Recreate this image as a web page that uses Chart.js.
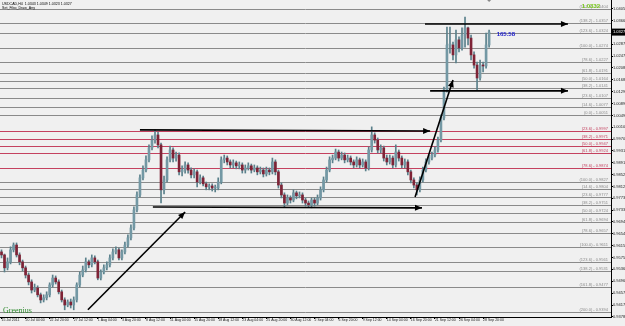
<!DOCTYPE html>
<html>
<head>
<meta charset="utf-8">
<script src="https://cdn.jsdelivr.net/npm/chart.js@4.4.1/dist/chart.umd.min.js"></script>
<style>
  html, body { margin: 0; padding: 0; background: #f0f0f0; }
  #wrap { width: 625px; height: 326px; }
</style>
</head>
<body>
<div id="wrap"><canvas id="fx"></canvas></div>
<script>
// ----- data (USDCAD H4, one slot = two H4 bars) -----
const timeLabels = [
  '15 Jul 2011', '20 Jul 04:00', '22 Jul 20:00', '27 Jul 12:00', '1 Aug 04:00', '3 Aug 20:00',
  '8 Aug 12:00', '11 Aug 04:00', '15 Aug 20:00', '18 Aug 12:00', '23 Aug 04:00', '25 Aug 20:00',
  '30 Aug 12:00', '2 Sep 04:00', '6 Sep 20:00', '9 Sep 12:00', '14 Sep 04:00', '16 Sep 20:00',
  '21 Sep 12:00', '26 Sep 04:00', '28 Sep 20:00'
];
const slotCount = 203;       // chart shift leaves empty slots on the right
const labelEvery = 8;

const firstOpen = 0.9594;
const closes = [
  0.9584, 0.9541, 0.9561, 0.9601, 0.9617, 0.9584, 0.9561, 0.9541, 0.9517, 0.9494,
  0.9467, 0.9474, 0.9451, 0.9434, 0.9441, 0.9451, 0.9484, 0.9507, 0.9494, 0.9461,
  0.9434, 0.9417, 0.9427, 0.9417, 0.9434, 0.9484, 0.9517, 0.9534, 0.9561, 0.9551,
  0.9574, 0.9561, 0.9507, 0.9527, 0.9541, 0.9551, 0.9574, 0.9594, 0.9601, 0.9574,
  0.9594, 0.9617, 0.9641, 0.9674, 0.9734, 0.9784, 0.9841, 0.9867, 0.9901, 0.9941,
  0.9967, 0.9984, 0.9951, 0.9801, 0.9834, 0.9901, 0.9934, 0.9907, 0.9917, 0.9861,
  0.9867, 0.9884, 0.9867, 0.9851, 0.9861, 0.9827, 0.9841, 0.9821, 0.9811, 0.9814,
  0.9807, 0.9807, 0.9827, 0.9901, 0.9907, 0.9894, 0.9884, 0.9891, 0.9881, 0.9884,
  0.9867, 0.9874, 0.9881, 0.9867, 0.9874, 0.9861, 0.9867, 0.9854, 0.9867, 0.9861,
  0.9894, 0.9861, 0.9817, 0.9784, 0.9757, 0.9774, 0.9767, 0.9791, 0.9781, 0.9784,
  0.9767, 0.9757, 0.9751, 0.9767, 0.9757, 0.9774, 0.9801, 0.9834, 0.9867, 0.9901,
  0.9907, 0.9927, 0.9907, 0.9917, 0.9901, 0.9907, 0.9894, 0.9884, 0.9901, 0.9884,
  0.9894, 0.9874, 0.9934, 0.9984, 0.9967, 0.9934, 0.9941, 0.9907, 0.9894, 0.9907,
  0.9884, 0.9927, 0.9907, 0.9884, 0.9894, 0.9861, 0.9834, 0.9817, 0.9801, 0.9834,
  0.9867, 0.9894, 0.9907, 0.9917, 0.9934, 0.9967, 1.0041, 1.0134, 1.0284, 1.0284,
  1.0251, 1.0301, 1.0274, 1.0317, 1.0341, 1.0307, 1.0251, 1.0217, 1.0174, 1.0217,
  1.0214, 1.0284, 1.0327
];
const highs = [
  0.9601, 0.9587, 0.9574, 0.9611, 0.9624, 0.9624, 0.9591, 0.9567, 0.9547, 0.9524,
  0.9501, 0.9487, 0.9481, 0.9457, 0.9451, 0.9461, 0.9491, 0.9517, 0.9514, 0.9501,
  0.9467, 0.9441, 0.9434, 0.9437, 0.9444, 0.9491, 0.9527, 0.9547, 0.9574, 0.9567,
  0.9584, 0.9581, 0.9567, 0.9534, 0.9551, 0.9561, 0.9584, 0.9604, 0.9611, 0.9607,
  0.9601, 0.9627, 0.9651, 0.9684, 0.9744, 0.9794, 0.9851, 0.9881, 0.9914, 0.9951,
  0.9981, 1.0001, 0.9994, 0.9957, 0.9847, 0.9911, 0.9947, 0.9941, 0.9927, 0.9924,
  0.9881, 0.9894, 0.9891, 0.9874, 0.9871, 0.9867, 0.9851, 0.9847, 0.9827, 0.9821,
  0.9821, 0.9817, 0.9841, 0.9911, 0.9917, 0.9914, 0.9901, 0.9901, 0.9897, 0.9894,
  0.9891, 0.9884, 0.9891, 0.9887, 0.9884, 0.9881, 0.9877, 0.9874, 0.9877, 0.9874,
  0.9907, 0.9901, 0.9867, 0.9824, 0.9791, 0.9784, 0.9781, 0.9801, 0.9797, 0.9794,
  0.9791, 0.9774, 0.9764, 0.9774, 0.9774, 0.9784, 0.9811, 0.9844, 0.9877, 0.9911,
  0.9917, 0.9937, 0.9934, 0.9927, 0.9924, 0.9917, 0.9914, 0.9901, 0.9911, 0.9907,
  0.9904, 0.9901, 0.9944, 1.0011, 0.9991, 0.9974, 0.9951, 0.9947, 0.9917, 0.9917,
  0.9914, 0.9951, 0.9934, 0.9914, 0.9904, 0.9901, 0.9867, 0.9841, 0.9824, 0.9844,
  0.9877, 0.9904, 0.9917, 0.9927, 0.9944, 0.9977, 1.0051, 1.0144, 1.0344, 1.0344,
  1.0294, 1.0334, 1.0311, 1.0341, 1.0377, 1.0344, 1.0317, 1.0261, 1.0227, 1.0234,
  1.0227, 1.0324, 1.0334
];
const lows = [
  0.9574, 0.9527, 0.9534, 0.9554, 0.9594, 0.9577, 0.9551, 0.9531, 0.9507, 0.9484,
  0.9457, 0.9461, 0.9444, 0.9424, 0.9427, 0.9434, 0.9444, 0.9477, 0.9487, 0.9454,
  0.9427, 0.9401, 0.9411, 0.9407, 0.9401, 0.9427, 0.9477, 0.9511, 0.9527, 0.9541,
  0.9544, 0.9554, 0.9501, 0.9501, 0.9521, 0.9534, 0.9544, 0.9567, 0.9587, 0.9567,
  0.9567, 0.9587, 0.9611, 0.9634, 0.9667, 0.9727, 0.9777, 0.9834, 0.9861, 0.9894,
  0.9934, 0.9957, 0.9941, 0.9757, 0.9787, 0.9827, 0.9894, 0.9894, 0.9897, 0.9851,
  0.9847, 0.9857, 0.9857, 0.9841, 0.9841, 0.9811, 0.9821, 0.9814, 0.9801, 0.9801,
  0.9797, 0.9794, 0.9801, 0.9821, 0.9891, 0.9884, 0.9874, 0.9874, 0.9871, 0.9871,
  0.9857, 0.9857, 0.9867, 0.9857, 0.9861, 0.9851, 0.9854, 0.9844, 0.9847, 0.9851,
  0.9854, 0.9851, 0.9807, 0.9774, 0.9744, 0.9751, 0.9757, 0.9761, 0.9771, 0.9774,
  0.9757, 0.9747, 0.9744, 0.9741, 0.9747, 0.9751, 0.9767, 0.9794, 0.9827, 0.9861,
  0.9891, 0.9901, 0.9897, 0.9901, 0.9891, 0.9894, 0.9884, 0.9874, 0.9877, 0.9874,
  0.9877, 0.9864, 0.9867, 0.9927, 0.9957, 0.9924, 0.9924, 0.9897, 0.9884, 0.9887,
  0.9874, 0.9877, 0.9897, 0.9874, 0.9874, 0.9851, 0.9824, 0.9807, 0.9784, 0.9794,
  0.9827, 0.9861, 0.9887, 0.9901, 0.9911, 0.9927, 0.9961, 1.0034, 1.0127, 1.0257,
  1.0234, 1.0224, 1.0261, 1.0267, 1.0277, 1.0284, 1.0234, 1.0207, 1.0134, 1.0167,
  1.0194, 1.0207, 1.0277
];

const priceMin = 0.9377;
const priceMax = 1.0434;
const yTicks = [
  1.0405, 1.0366, 1.0287, 1.0247, 1.0208, 1.0168, 1.0129, 1.0089, 1.0049, 1.0010,
  0.9970, 0.9931, 0.9891, 0.9852, 0.9812, 0.9773, 0.9733, 0.9694, 0.9654, 0.9615,
  0.9575, 0.9536, 0.9496, 0.9457, 0.9417, 0.9378
];

// fibo levels: price, level name, group (A upper, B red retrace, C lower expansion)
const fibPrices = [
  1.0404, 1.0357, 1.0324, 1.0274, 1.0227, 1.0191, 1.0164, 1.0141, 1.0107, 1.0077, 1.0051,
  0.9997, 0.9971, 0.9947, 0.9924, 0.9874,
  0.9827, 0.9804, 0.9777, 0.9751, 0.9724, 0.9694, 0.9657, 0.9611, 0.9561, 0.9531, 0.9477, 0.9394
];
const fibNames = [
  '161.8', '138.2', '123.6', '100.0', '78.6', '61.8', '50.0', '38.2', '23.6', '14.6', '0.0',
  '23.6', '38.2', '50.0', '61.8', '78.6',
  '100.0', '14.6', '23.6', '38.2', '50.0', '61.8', '78.6', '100.0', '123.6', '138.2', '161.8', '200.0'
];
const fibGroups = [
  'A', 'A', 'A', 'A', 'A', 'A', 'A', 'A', 'A', 'A', 'A',
  'B', 'B', 'B', 'B', 'B',
  'C', 'C', 'C', 'C', 'C', 'C', 'C', 'C', 'C', 'C', 'C', 'C'
];

// trend arrows: [fromSlot, fromPrice, toSlot, toPrice]
const arrows = [
  [28.7, 0.9401, 61.0, 0.9727],
  [46.0, 1.0001, 142.4, 0.9997],
  [50.3, 0.9744, 139.7, 0.9741],
  [137.4, 0.9777, 150.0, 1.0167],
  [140.7, 1.0354, 188.2, 1.0354],
  [142.4, 1.0131, 188.2, 1.0131]
];

const headerText = 'USDCAD,H4  1.0343 1.0349 1.0323 1.0327';
const indicatorText = 'Set_Fibo_Draw_Any';
const pipsText = '165.58';
const pipsAt = [164.5, 1.0321];
const bidText = '1.0332';
const signText = 'Greenius';

// ----- derived series -----
const opens = closes.map((c, i) => (i === 0 ? firstOpen : closes[i - 1]));
const slotLabels = Array.from({ length: slotCount }, (_, i) =>
  (i % labelEvery === 0 && i / labelEvery < timeLabels.length) ? timeLabels[i / labelEvery] : '');

const BULL = '#7398a4', BEAR = '#7e2336', WICK = '#5a808b';
const FONT = 'Liberation Sans, Arial, sans-serif';

const mtPlugin = {
  id: 'mtOverlay',
  beforeDraw(ci) {
    const ctx = ci.ctx;
    ctx.save();
    ctx.fillStyle = '#f0f0f0';
    ctx.fillRect(0, 0, ci.width, ci.height);
    ctx.restore();
  },
  beforeDatasetsDraw(ci) {
    const { ctx, chartArea: ca, scales: { y } } = ci;
    ctx.save();
    ctx.font = '4px ' + FONT;
    ctx.textAlign = 'right';
    ctx.textBaseline = 'bottom';
    fibPrices.forEach((p, i) => {
      const yy = Math.round(y.getPixelForValue(p)) + 0.5;
      const red = fibGroups[i] === 'B';
      ctx.strokeStyle = red ? '#c4415f' : '#8a8a8a';
      ctx.lineWidth = 1;
      ctx.beginPath();
      ctx.moveTo(ca.left, yy);
      ctx.lineTo(ca.right, yy);
      ctx.stroke();
      ctx.fillStyle = red ? '#c4415f' : '#8a8a8a';
      ctx.fillText('(' + fibNames[i] + ') - ' + p.toFixed(4), ca.right - 3, yy - 0.5);
    });
    ctx.restore();
  },
  afterDatasetsDraw(ci) {
    const { ctx, chartArea: ca, scales: { x, y } } = ci;
    ctx.save();
    ctx.strokeStyle = '#000';
    ctx.fillStyle = '#000';
    ctx.lineWidth = 1.6;
    arrows.forEach(a => {
      const x1 = x.getPixelForValue(a[0]), y1 = y.getPixelForValue(a[1]);
      const x2 = x.getPixelForValue(a[2]), y2 = y.getPixelForValue(a[3]);
      ctx.beginPath();
      ctx.moveTo(x1, y1);
      ctx.lineTo(x2, y2);
      ctx.stroke();
      const ang = Math.atan2(y2 - y1, x2 - x1);
      const len = 7, half = 3;
      ctx.beginPath();
      ctx.moveTo(x2, y2);
      ctx.lineTo(x2 - len * Math.cos(ang) + half * Math.sin(ang), y2 - len * Math.sin(ang) - half * Math.cos(ang));
      ctx.lineTo(x2 - len * Math.cos(ang) - half * Math.sin(ang), y2 - len * Math.sin(ang) + half * Math.cos(ang));
      ctx.closePath();
      ctx.fill();
    });

    // pips count next to last bar
    ctx.font = 'bold 6px ' + FONT;
    ctx.textAlign = 'left';
    ctx.textBaseline = 'middle';
    ctx.fillStyle = '#1c1ccc';
    ctx.fillText(pipsText, x.getPixelForValue(pipsAt[0]), y.getPixelForValue(pipsAt[1]));

    // signature bottom-left
    ctx.font = '8px Liberation Serif, Times New Roman, serif';
    ctx.textBaseline = 'bottom';
    ctx.fillStyle = '#2f8a2f';
    ctx.fillText(signText, ca.left + 3, ca.bottom - 2);

    // header
    ctx.font = '3.6px ' + FONT;
    ctx.textBaseline = 'top';
    ctx.fillStyle = '#000';
    ctx.fillText(headerText, ca.left + 2, ca.top + 2);
    ctx.fillText(indicatorText, ca.left + 2, ca.top + 6);

    // bid label top-right
    ctx.font = 'bold 6px ' + FONT;
    ctx.textAlign = 'right';
    ctx.fillStyle = '#78c81c';
    ctx.fillText(bidText, ca.right - 11, ca.top + 3);

    // shift marker
    const sx = x.getPixelForValue(closes.length - 1);
    ctx.fillStyle = '#888';
    ctx.beginPath();
    ctx.moveTo(sx - 2, ca.top);
    ctx.lineTo(sx + 2, ca.top);
    ctx.lineTo(sx, ca.top + 2);
    ctx.closePath();
    ctx.fill();
    ctx.restore();
  },
  afterDraw(ci) {
    const { ctx, chartArea: ca, scales: { y } } = ci;
    const last = closes[closes.length - 1];
    const yy = y.getPixelForValue(last);
    ctx.save();
    ctx.fillStyle = '#000';
    ctx.fillRect(ca.right, yy - 3.5, ci.width - ca.right, 7);
    ctx.fillStyle = '#fff';
    ctx.font = '4px ' + FONT;
    ctx.textAlign = 'left';
    ctx.textBaseline = 'middle';
    ctx.fillText(last.toFixed(4), ca.right + 2, yy);
    ctx.restore();
  }
};

new Chart(document.getElementById('fx'), {
  type: 'bar',
  data: {
    labels: slotLabels,
    datasets: [
      {
        label: 'body',
        data: closes.map((c, i) => [opens[i], c]),
        backgroundColor: closes.map((c, i) => (c >= opens[i] ? BULL : BEAR)),
        barThickness: 2,
        minBarLength: 1,
        grouped: false,
        borderWidth: 0
      },
      {
        label: 'wick',
        data: lows.map((l, i) => [l, highs[i]]),
        backgroundColor: WICK,
        barThickness: 1,
        grouped: false,
        borderWidth: 0
      }
    ]
  },
  options: {
    responsive: true,
    maintainAspectRatio: false,
    animation: false,
    layout: { padding: 0 },
    plugins: { legend: { display: false }, tooltip: { enabled: false } },
    scales: {
      x: {
        type: 'category',
        offset: true,
        afterBuildTicks: s => {
          s.ticks = s.ticks.filter(t => t.value % labelEvery === 0 && t.value / labelEvery < timeLabels.length);
        },
        afterFit: s => { s.height = 9; },
        grid: { drawOnChartArea: false, offset: false, tickLength: 2, color: '#000' },
        border: { color: '#000', width: 1 },
        ticks: {
          autoSkip: false, maxRotation: 0, minRotation: 0, align: 'start', padding: 1,
          color: '#222', font: { size: 3.5, family: FONT, lineHeight: 0 }
        }
      },
      y: {
        position: 'right',
        min: priceMin,
        max: priceMax,
        afterBuildTicks: s => { s.ticks = yTicks.map(v => ({ value: v })); },
        afterFit: s => { s.width = 14; },
        grid: { drawOnChartArea: false, tickLength: 2, color: '#000' },
        border: { color: '#000', width: 1 },
        ticks: {
          padding: 0, color: '#222',
          font: { size: 4, family: FONT, lineHeight: 0 },
          callback: v => v.toFixed(4)
        }
      }
    }
  },
  plugins: [mtPlugin]
});
</script>
</body>
</html>
